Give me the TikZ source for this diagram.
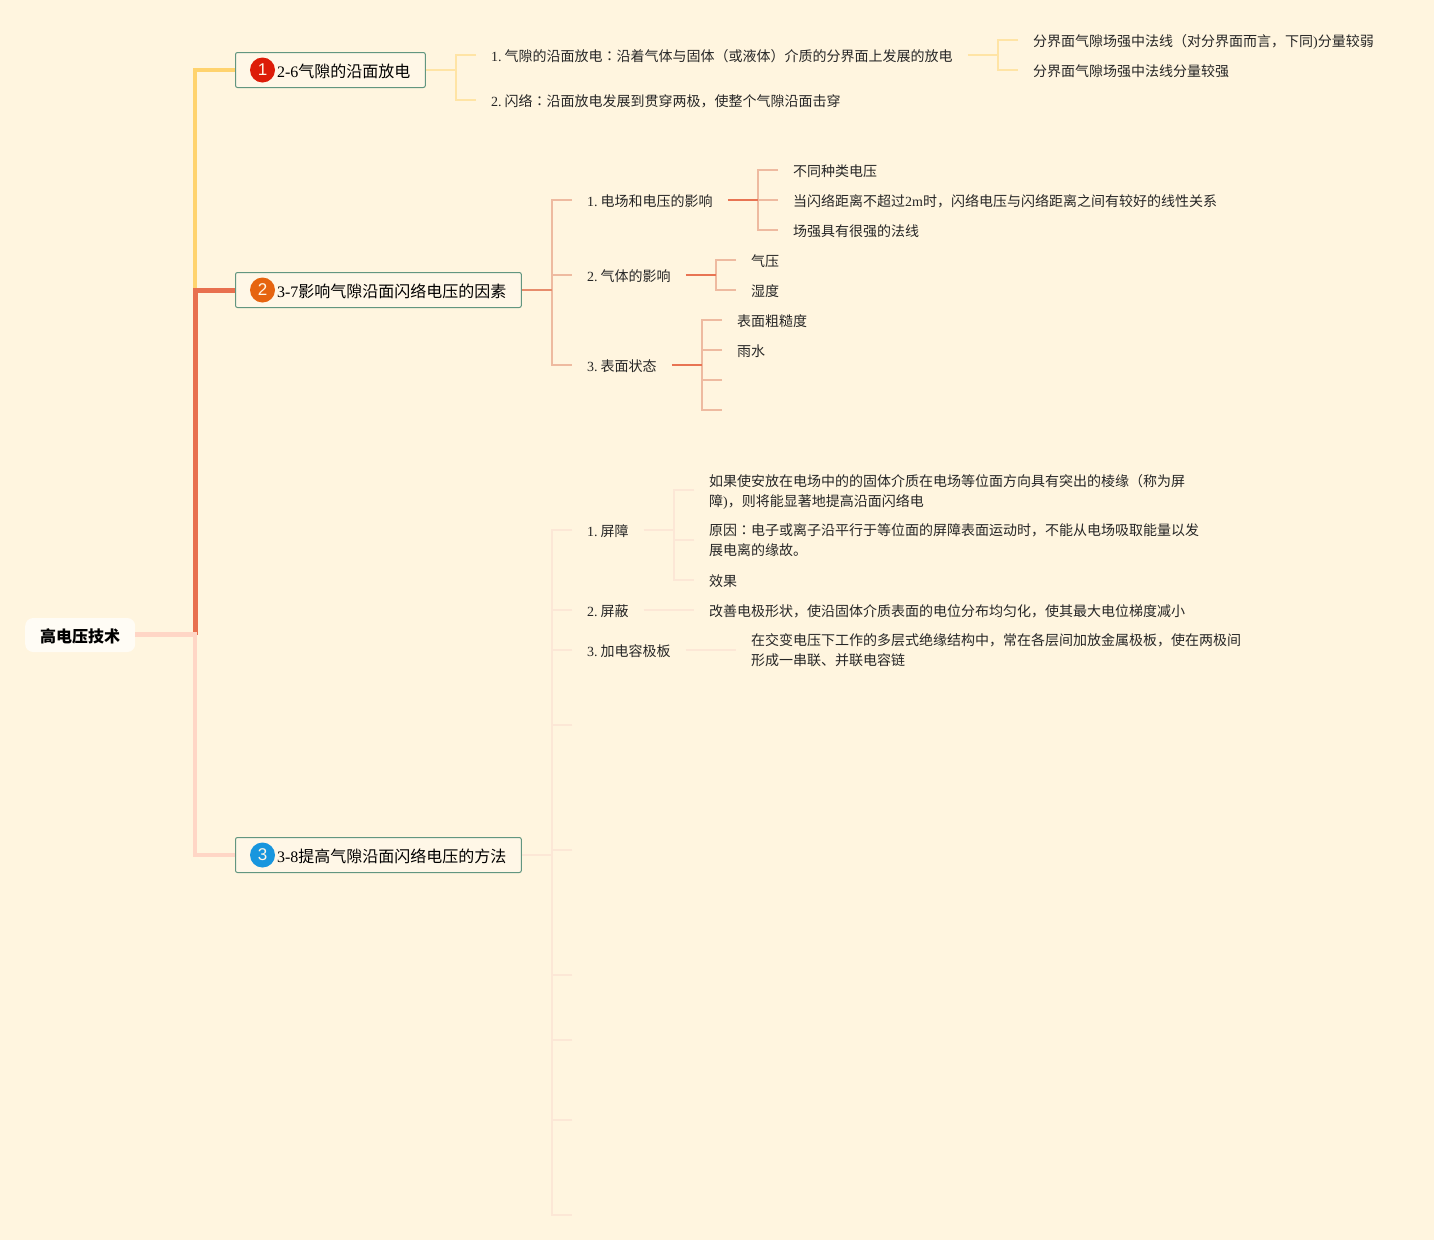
\documentclass[tikz,border=0pt]{standalone}
\usepackage{fontspec}
\setmainfont{Liberation Serif}
\newfontfamily\cjk{Noto Sans CJK SC}
\newfontfamily\cjktc{Noto Sans CJK TC}
\newfontfamily\badgefont{Liberation Sans}
\usetikzlibrary{
    positioning,
    calc
}
\definecolor{Cbg}{RGB}{255, 245, 223}
\definecolor{Croot}{RGB}{255, 252, 245}
\definecolor{Cbox}{RGB}{255, 247, 231}
\definecolor{Cframe}{RGB}{98, 150, 128}
\definecolor{Ayellow}{RGB}{255, 211, 110}
\definecolor{Ayellowlt}{RGB}{255, 228, 165}
\definecolor{Aorange}{RGB}{232, 112, 79}
\definecolor{Aorangemd}{RGB}{231, 140, 108}
\definecolor{Aorangelt}{RGB}{238, 186, 160}
\definecolor{Apink}{RGB}{255, 214, 198}
\definecolor{Apinklt}{RGB}{252, 231, 214}
\definecolor{Bred}{RGB}{221, 28, 8}
\definecolor{Bamber}{RGB}{230, 100, 15}
\definecolor{Bblue}{RGB}{24, 150, 222}
\newcommand{\lat}[1]{{\rmfamily #1}}
\newcommand{\num}[1]{{\rmfamily #1.\kern3pt}}
\newcommand{\zcolon}{{\cjktc ：}}
\newcommand{\rp}{\smash{\rmfamily )}}
\tikzset{
    rootbox/.style={
        rectangle, rounded corners=8pt, fill=Croot, text=black,
        inner xsep=15pt, minimum height=34pt, anchor=west,
        execute at begin node=\rule{0pt}{16.1pt},
        font=\fontsize{16}{20}\selectfont\cjk\bfseries
    },
    topicbox/.style={
        rectangle, rounded corners=2pt, draw=Cframe, line width=1pt,
        fill=Cbox, text=black, inner xsep=15pt, minimum height=35pt, anchor=west,
        execute at begin node=\rule{0pt}{16.1pt},
        font=\fontsize{16}{20}\selectfont\cjk
    },
    leaf/.style={
        inner xsep=15pt, inner ysep=0pt, anchor=west, align=left, text=black!85,
        execute at begin node=\rule{0pt}{14.3pt},
        font=\fontsize{14}{20}\selectfont\cjk
    },
    twoline/.style={text depth=0pt},
    badge/.style={
        circle, minimum size=25pt, inner sep=0pt, text=Cbox,
        font=\fontsize{17}{20}\selectfont\badgefont
    },
    mainy/.style={line width=4pt, Ayellow},
    maino/.style={line width=5pt, Aorange},
    mainp/.style={line width=4.5pt, Apink},
    yarm/.style={line width=1.5pt, Ayellowlt},
    oarmA/.style={line width=1.5pt, Aorangemd},
    oarmB/.style={line width=1.5pt, Aorange!85!Aorangemd},
    ostub/.style={line width=1.5pt, Aorangelt},
    parm/.style={line width=1.5pt, Apinklt},
}

\begin{document}
\begin{tikzpicture}[x=1pt, y=-1pt]

    \useasboundingbox [fill=Cbg] (0,0) rectangle (1434,1240);

    % ── root and topics ─────────────────────────────
    \node [rootbox] (root) at (25,635) {高电压技术};
    \node [topicbox] (ta) at (235,70) {\hspace{26.5pt}\lat{2-6}气隙的沿面放电};
    \node [topicbox] (tb) at (235,290) {\hspace{26.5pt}\lat{3-7}影响气隙沿面闪络电压的因素};
    \node [topicbox] (tc) at (235,855) {\hspace{26.5pt}\lat{3-8}提高气隙沿面闪络电压的方法};
    \node [badge, fill=Bred] (ba) at ($(ta.west)+(27.5,0)$) {1};
    \node [badge, fill=Bamber] (bb) at ($(tb.west)+(27.5,0)$) {2};
    \node [badge, fill=Bblue] (bc) at ($(tc.west)+(27.5,0)$) {3};

    \coordinate (jroot) at (195,634.5);

    % ── main branches ───────────────────────────────
    \draw [mainy] (ta.west) -| (jroot);
    \draw [mainp] (tc.west) -| (jroot);
    \draw [maino] (tb.west) -| (jroot);
    \draw [mainp, line width=5pt] (root.east |- jroot) -- ([xshift=2pt]jroot);

    % ── 2-6 ─────────────────────────────────────────
    \node [leaf] (a1) at (476,55) {\num{1}气隙的沿面放电\zcolon 沿着气体与固体（或液体）介质的分界面上发展的放电};
    \node [leaf] (a2) at (476,100) {\num{2}闪络\zcolon 沿面放电发展到贯穿两极，使整个气隙沿面击穿};
    \node [leaf] (a11) at (1018,40) {分界面气隙场强中法线（对分界面而言，下同\rp 分量较弱};
    \node [leaf] (a12) at (1018,70) {分界面气隙场强中法线分量较强};

    \coordinate (ja) at (456,70);
    \coordinate (ja1) at (998,55);
    \draw [yarm] (ta.east) -- (ja);
    \draw [yarm] (a1.west) -| (ja) |- (a2.west);
    \draw [yarm] (a1.east) -- (ja1);
    \draw [yarm] (a11.west) -| (ja1) |- (a12.west);

    % ── 3-7 ─────────────────────────────────────────
    \node [leaf] (b1) at (572,200) {\num{1}电场和电压的影响};
    \node [leaf] (b2) at (572,275) {\num{2}气体的影响};
    \node [leaf] (b3) at (572,365) {\num{3}表面状态};
    \node [leaf] (b11) at (778,170) {不同种类电压};
    \node [leaf] (b12) at (778,200) {当闪络距离不超过\lat{2m}时，闪络电压与闪络距离之间有较好的线性关系};
    \node [leaf] (b13) at (778,230) {场强具有很强的法线};
    \node [leaf] (b21) at (736,260) {气压};
    \node [leaf] (b22) at (736,290) {湿度};
    \node [leaf] (b31) at (722,320) {表面粗糙度};
    \node [leaf] (b32) at (722,350) {雨水};

    \coordinate (jb) at (552,290);
    \coordinate (jb1) at (758,200);
    \coordinate (jb2) at (716,275);
    \coordinate (jb3) at (702,365);
    \coordinate (eb33) at (722,380);
    \coordinate (eb34) at (722,410);

    \draw [ostub] (b1.west) -| (jb) |- (b3.west);
    \draw [ostub] (jb) |- (b2.west);
    \draw [oarmA] (tb.east) -- (jb);

    \draw [ostub] (b11.west) -| (jb1) |- (b13.west);
    \draw [ostub] (jb1) -- (b12.west);
    \draw [oarmB] (b1.east) -- (jb1);

    \draw [ostub] (b21.west) -| (jb2) |- (b22.west);
    \draw [oarmB] (b2.east) -- (jb2);

    \draw [ostub] (b31.west) -| (jb3) |- (eb34);
    \draw [ostub] (b32.west) -- (jb3 |- b32.west);
    \draw [ostub] (eb33) -- (jb3 |- eb33);
    \draw [oarmB] (b3.east) -- (jb3);

    % ── 3-8 ─────────────────────────────────────────
    \node [leaf] (c1) at (572,530) {\num{1}屏障};
    \node [leaf] (c2) at (572,610) {\num{2}屏蔽};
    \node [leaf] (c3) at (572,650) {\num{3}加电容极板};
    \node [leaf, twoline] (c11) at (694,490) {如果使安放在电场中的的固体介质在电场等位面方向具有突出的棱缘（称为屏\\障\rp，则将能显著地提高沿面闪络电};
    \node [leaf, twoline] (c12) at (694,540) {原因\zcolon 电子或离子沿平行于等位面的屏障表面运动时，不能从电场吸取能量以发\\展电离的缘故。};
    \node [leaf] (c13) at (694,580) {效果};
    \node [leaf] (c21) at (694,610) {改善电极形状，使沿固体介质表面的电位分布均匀化，使其最大电位梯度减小};
    \node [leaf, twoline] (c31) at (736,650) {在交变电压下工作的多层式绝缘结构中，常在各层间加放金属极板，使在两极间\\形成一串联、并联电容链};

    \coordinate (jc) at (552,855);
    \coordinate (jc1) at (674,530);
    \coordinate (ec4) at (572,725);
    \coordinate (ec5) at (572,850);
    \coordinate (ec6) at (572,975);
    \coordinate (ec7) at (572,1040);
    \coordinate (ec8) at (572,1120);
    \coordinate (ec9) at (572,1215);

    \draw [parm] (tc.east) -- (jc);
    \draw [parm] (c1.west) -| (jc) |- (ec9);
    \draw [parm] (c2.west) -- (jc |- c2.west);
    \draw [parm] (c3.west) -- (jc |- c3.west);
    \foreach \e in {ec4,ec5,ec6,ec7,ec8}
        \draw [parm] (\e) -- (jc |- \e);

    \draw [parm] (c11.west) -| (jc1) |- (c13.west);
    \draw [parm] (c12.west) -- (jc1 |- c12.west);
    \draw [parm] (c1.east) -- (jc1);
    \draw [parm] (c2.east) -- (c21.west);
    \draw [parm] (c3.east) -- (c31.west);

\end{tikzpicture}
\end{document}
